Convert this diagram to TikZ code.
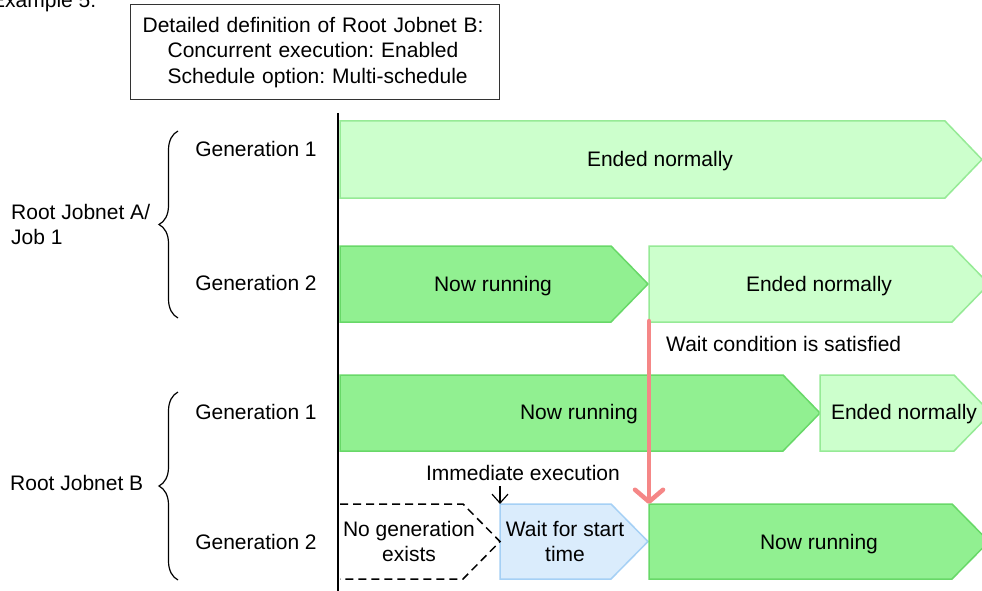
\documentclass[tikz,border=0pt]{standalone}
\usepackage{fontspec}
\setmainfont{Liberation Sans}
\usetikzlibrary{arrows.meta,decorations.pathreplacing}
\definecolor{endfill}{RGB}{204,255,204}
\definecolor{enddraw}{RGB}{150,234,150}
\definecolor{runfill}{RGB}{145,240,145}
\definecolor{rundraw}{RGB}{104,216,104}
\definecolor{waitfill}{RGB}{218,236,252}
\definecolor{waitdraw}{RGB}{165,208,245}
\definecolor{redarrow}{RGB}{245,135,135}
\newcommand\stbar[6]{%
  \path[#6] (#2,#4) -- ({#3-37},#4) -- (#3,{(#4+#5)/2}) -- ({#3-37},#5) -- (#2,#5) -- cycle;
  \coordinate (#1-nw) at (#2,#4);
  \coordinate (#1-sw) at (#2,#5);
}
\tikzset{
  lbl/.style={inner sep=0pt, text height=15pt, text depth=0pt, align=center},
  endbar/.style={fill=endfill, draw=enddraw, line width=1.5pt, line join=miter},
  runbar/.style={fill=runfill, draw=rundraw, line width=1.5pt, line join=miter},
  waitbar/.style={fill=waitfill, draw=waitdraw, line width=1.5pt, line join=miter},
  bracestyle/.style={decorate, decoration={brace, amplitude=19pt}, line width=1.2pt},
}
\frenchspacing
\begin{document}
\begin{tikzpicture}[x=1pt, y=-1pt, font=\fontsize{21}{25.5}\selectfont]
\useasboundingbox (0,0) rectangle (982,591);

% title
\node[anchor=base west, inner sep=0pt] (ex) at (-9,8) {Example 5:};
\node[draw=black!80, line width=1.3pt, anchor=north west, minimum width=369pt, minimum height=95pt,
      text width=345pt, inner xsep=12pt, align=left] (def) at (130,4)
  {Detailed definition of Root Jobnet B:\\\hspace*{25pt}Concurrent execution: Enabled\\\hspace*{25pt}Schedule option: Multi-schedule};

% bars
\stbar{a1}{340}{982}{121}{198}{endbar}
\stbar{a2nr}{340}{648}{246}{322}{runbar}
\stbar{a2en}{649}{989}{246}{322}{endbar}
\stbar{b1nr}{340}{820}{375}{451}{runbar}
\stbar{b1en}{820}{991}{375}{451}{endbar}
\stbar{b2w}{500}{648}{504}{579}{waitbar}
\stbar{b2nr}{649}{989}{504}{579}{runbar}
\draw[line width=1.5pt, dash pattern=on 8pt off 5pt] (340,504) -- (463,504) -- (500,541.5) -- (463,579) -- (340,579);

% bar labels
\node[lbl] (t-a1) at (660,159) {Ended normally};
\node[lbl] (t-a2nr) at (493,284) {Now running};
\node[lbl] (t-a2en) at (819,284) {Ended normally};
\node[lbl] (t-b1nr) at (579,412) {Now running};
\node[lbl] (t-b1en) at (904,412) {Ended normally};
\node[lbl] (t-b2no) at (409,554) {No generation\\exists};
\node[lbl] (t-b2w) at (565,554) {Wait for start\\time};
\node[lbl] (t-b2nr) at (819,542) {Now running};
\node[lbl, anchor=west] (wait) at (666,344) {Wait condition is satisfied};
\node[lbl] (imm) at (523,473) {Immediate execution};

% axis
\coordinate (axtop) at (338,113);
\coordinate (axbot) at (338,591);
\draw[line width=2pt] (axtop) -- (axbot);

% connectors
\draw[redarrow, line width=4.5pt, line cap=round, -{Straight Barb[round, length=12pt, width=28pt]}] (a2en-sw) ++(0,-1) -- (b2nr-nw);
\coordinate (immtop) at (500,486);
\draw[line width=1.2pt, -{Straight Barb[length=9pt, width=16pt]}] (immtop) -- (b2w-nw);

% left labels
\node[lbl] (g-a1) at (256,149) {Generation 1};
\node[lbl] (g-a2) at (256,283) {Generation 2};
\node[lbl] (g-b1) at (256,412) {Generation 1};
\node[lbl] (g-b2) at (256,542) {Generation 2};
\coordinate (bra-top) at (178,131);
\coordinate (bra-bot) at (178,318);
\coordinate (brb-top) at (178,392);
\coordinate (brb-bot) at (178,580);
\draw[bracestyle] (bra-bot) -- (bra-top);
\draw[bracestyle] (brb-bot) -- (brb-top);
\node[lbl, anchor=west, align=left] (ra) at (11,237) {Root Jobnet A/\\Job 1};
\node[lbl, anchor=west] (rb) at (10,483) {Root Jobnet B};
\end{tikzpicture}
\end{document}
